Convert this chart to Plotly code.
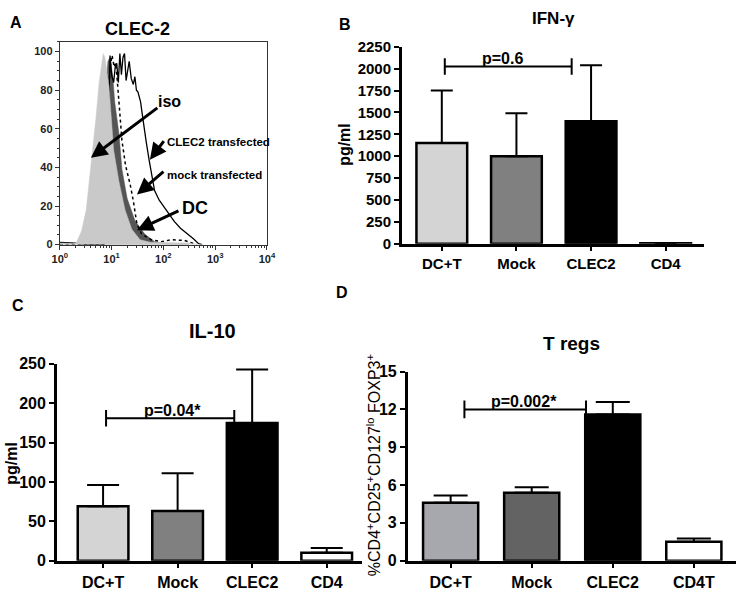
import plotly.graph_objects as go

W, H = 745, 592
FONT = "Liberation Sans, Arial, sans-serif"

# ---------------- Panel A: CLEC-2 flow histograms (log10 intensity, % of max)
iso_log = [0.00, 0.25, 0.32, 0.42, 0.51, 0.60, 0.70, 0.76, 0.80, 0.84, 0.87, 0.91, 0.95, 0.98, 1.04, 1.14, 1.26, 1.39, 1.55, 1.75, 2.10, 2.50, 2.65]
iso_cnt = [0.8, 0.5, 1, 7, 18, 40, 66, 84, 93, 99, 97, 90, 82, 71, 49, 33, 18, 8, 2.5, 1.2, 1.0, 0.8, 0]

dc_log = [0.00, 0.40, 0.55, 0.70, 0.80, 0.88, 0.93, 0.97, 1.02, 1.06, 1.14, 1.20, 1.30, 1.45, 1.64, 1.83, 2.02, 2.30, 2.50]
dc_cnt = [0, 0, 3, 20, 50, 80, 95, 97, 88, 74, 58, 39, 24, 12.5, 5.5, 1.5, 0.5, 0.3, 0]

mock_log = [0.00, 0.50, 0.85, 0.90, 0.94, 0.97, 1.01, 1.05, 1.08, 1.11, 1.14, 1.20, 1.27, 1.36, 1.42, 1.49, 1.58, 1.77, 1.96, 2.15, 2.40, 2.55, 2.64]
mock_cnt = [0, 0, 0, 30, 75, 92, 98, 92, 94, 85, 74, 54, 41, 31, 22.6, 10.5, 5.5, 2.5, 1.5, 2.5, 2.2, 1, 0]

clec_log = [0.00, 0.30, 0.55, 0.85, 0.90, 0.93, 0.95, 0.97, 1.00, 1.04, 1.07, 1.10, 1.13, 1.16, 1.19, 1.22, 1.25, 1.28, 1.31, 1.34, 1.38, 1.42, 1.45, 1.48, 1.51, 1.56, 1.59, 1.63, 1.67, 1.73, 1.83, 1.92, 2.00, 2.10, 2.21, 2.33, 2.45, 2.58, 2.68, 2.75]
clec_cnt = [1.2, 0.8, 0, 0, 20, 60, 85, 98, 88, 84, 92, 94, 84, 99, 88, 97, 99, 85, 90, 95, 86, 83, 87, 80, 79, 74, 68, 60, 53, 43, 28, 23, 20, 16, 12, 8.5, 6, 3, 0.5, 0]

hist_xticks = [1, 10, 100, 1000, 10000]
hist_xticktext = ["10<sup>0</sup>", "10<sup>1</sup>", "10<sup>2</sup>", "10<sup>3</sup>", "10<sup>4</sup>"]

# ---------------- Panel B: IFN-gamma
cats_bc = ["DC+T", "Mock", "CLEC2", "CD4"]
ifn_mean = [1150, 1000, 1400, 5]
ifn_upper = [1750, 1490, 2040, 5]

# ---------------- Panel C: IL-10
il10_mean = [69, 63, 175, 10]
il10_upper = [96, 111, 243, 16]

# ---------------- Panel D: T regs
cats_d = ["DC+T", "Mock", "CLEC2", "CD4T"]
treg_mean = [4.6, 5.4, 11.6, 1.5]
treg_upper = [5.18, 5.82, 12.6, 1.77]

colors_bc = ["#d4d4d4", "#808080", "#000000", "#ffffff"]
colors_d = ["#a7a7ae", "#636363", "#000000", "#ffffff"]

# significance brackets: start, end (category units), height, end-tick half size, label, label x
brk_b = [0.04, 1.74, 2025, 95, "p=0.6", 0.81]
brk_c = [0.04, 1.76, 181, 10.5, "p=0.04*", 0.93]
brk_d = [0.17, 1.67, 12.0, 0.7, "p=0.002*", 0.90]


def px(x):
    return x / W


def py(y):
    return 1 - y / H


fig = go.Figure()

# ---- Panel A traces
fig.add_trace(go.Scatter(x=[10 ** v for v in dc_log], y=dc_cnt, mode="lines", fill="tozeroy",
                         fillcolor="#555555", line=dict(color="#555555", width=0.5),
                         xaxis="x", yaxis="y", showlegend=False))
fig.add_trace(go.Scatter(x=[10 ** v for v in mock_log], y=mock_cnt, mode="lines",
                         line=dict(color="black", width=1.5, dash="dot"),
                         xaxis="x", yaxis="y", showlegend=False))
fig.add_trace(go.Scatter(x=[10 ** v for v in clec_log], y=clec_cnt, mode="lines",
                         line=dict(color="black", width=1.3),
                         xaxis="x", yaxis="y", showlegend=False))
fig.add_trace(go.Scatter(x=[10 ** v for v in iso_log], y=iso_cnt, mode="lines", fill="tozeroy",
                         fillcolor="#c9c9c9", line=dict(color="#c9c9c9", width=0.5),
                         xaxis="x", yaxis="y", showlegend=False))


def bar_panel(xa, ya, means, uppers, colors, cap, brk):
    fig.add_trace(go.Bar(
        x=list(range(len(means))), y=means, width=0.68,
        marker=dict(color=colors, line=dict(color="black", width=2.5)),
        error_y=dict(type="data", symmetric=False,
                     array=[u - m for u, m in zip(uppers, means)],
                     arrayminus=[0] * len(means), thickness=2, width=cap, color="black"),
        xaxis=xa, yaxis=ya, showlegend=False))
    x0, x1, yb, t, label, tx = brk
    fig.add_trace(go.Scatter(
        x=[x0, x0, None, x0, x1, None, x1, x1],
        y=[yb - t, yb + t, None, yb, yb, None, yb - t, yb + t],
        mode="lines", line=dict(color="black", width=2),
        xaxis=xa, yaxis=ya, showlegend=False, hoverinfo="skip"))
    fig.add_annotation(x=tx, y=yb, xref=xa, yref=ya, text="<b>" + label + "</b>",
                       showarrow=False, yanchor="bottom", yshift=-3,
                       font=dict(size=16, family=FONT, color="black"))


bar_panel("x2", "y2", ifn_mean, ifn_upper, colors_bc, 11, brk_b)
bar_panel("x3", "y3", il10_mean, il10_upper, colors_bc, 16, brk_c)
bar_panel("x4", "y4", treg_mean, treg_upper, colors_d, 17, brk_d)

# ---- Panel A arrows & labels
arrows = [
    (0.60, 45, 68, -51),
    (1.74, 44, 15, -20),
    (1.49, 26, 28, -24),
    (1.49, 7.5, 43, -20),
]
for ax_, ay_, dx, dy in arrows:
    fig.add_annotation(x=ax_, y=ay_, xref="x", yref="y", text="", showarrow=True,
                       ax=dx, ay=dy, arrowhead=2, arrowsize=1.1, arrowwidth=3, arrowcolor="black")

hist_labels = [
    ("iso", 1.85, 74, 16),
    ("CLEC2 transfected", 2.04, 53, 11.5),
    ("mock transfected", 2.04, 36, 11.5),
    ("DC", 2.32, 19, 18),
]
for txt, lx, ly, fs in hist_labels:
    fig.add_annotation(x=lx, y=ly, xref="x", yref="y", text="<b>" + txt + "</b>", showarrow=False,
                       xanchor="left", yanchor="middle", font=dict(size=fs, family=FONT, color="black"))

# ---- Titles, panel letters, y labels (paper coordinates)
texts = [
    ("A", 8, 14, 16, 0), ("B", 345, 16, 16, 0), ("C", 10, 306, 16, 0), ("D", 342, 292, 16, 0),
    ("CLEC-2", 133, 21, 18, 0), ("IFN-γ", 558, 10, 17, 0), ("IL-10", 209, 332, 20, 0), ("T regs", 577, 345, 19, 0),
    ("pg/ml", 345, 140, 16, -90), ("pg/ml", 4, 468, 16, -90),
]
for txt, x, y, fs, ang in texts:
    fig.add_annotation(x=px(x), y=py(y), xref="paper", yref="paper", text="<b>" + txt + "</b>",
                       showarrow=False, xanchor="center", yanchor="middle", textangle=ang,
                       font=dict(size=fs, family=FONT, color="black"))
fig.add_annotation(x=px(374), y=py(470), xref="paper", yref="paper",
                   text="%CD4<sup>+</sup>CD25<sup>+</sup>CD127<sup>lo</sup> FOXP3<sup>+</sup>",
                   showarrow=False, xanchor="center", yanchor="middle", textangle=-90,
                   font=dict(size=16, family=FONT, color="black"))

minor_log = [k * 10 ** n for n in range(4) for k in range(2, 10)]

bar_x_common = dict(tickvals=[0, 1, 2, 3], showline=True, linewidth=2.5, linecolor="black",
                    ticks="outside", ticklen=5, tickwidth=2, tickcolor="black",
                    showgrid=False, zeroline=False)
bar_y_common = dict(showline=True, linewidth=2.5, linecolor="black", ticks="outside",
                    ticklen=5, tickwidth=2, tickcolor="black", showgrid=False, zeroline=False)

fig.update_layout(
    width=W, height=H, margin=dict(l=0, r=0, t=0, b=0),
    paper_bgcolor="white", plot_bgcolor="white",
    font=dict(family=FONT, color="black"),
    bargap=0.3,
    xaxis=dict(domain=[px(53), px(265)], type="log", range=[0, 4], anchor="y",
               tickvals=hist_xticks, ticktext=hist_xticktext,
               showline=True, mirror=True, linewidth=1, linecolor="#333",
               ticks="outside", ticklen=4, tickcolor="#333",
               minor=dict(tickvals=minor_log, ticks="outside", ticklen=2.5, tickcolor="#333"),
               showgrid=False, zeroline=False,
               tickfont=dict(size=11, family=FONT, weight="bold", color="#222")),
    yaxis=dict(domain=[py(243), py(34)], range=[0, 105], anchor="x",
               tickvals=[0, 20, 40, 60, 80, 100],
               showline=True, mirror=True, linewidth=1, linecolor="#333",
               ticks="outside", ticklen=4, tickcolor="#333",
               minor=dict(dtick=5, ticks="outside", ticklen=2, tickcolor="#333"),
               showgrid=False, zeroline=False,
               tickfont=dict(size=11, family=FONT, weight="bold", color="#222")),
    xaxis2=dict(domain=[px(403), px(712)], range=[-0.536, 3.51], anchor="y2",
                ticktext=cats_bc, tickfont=dict(size=15, family=FONT, weight="bold"), **bar_x_common),
    yaxis2=dict(domain=[py(242), py(39)], range=[0, 2250], dtick=250, anchor="x2",
                tickfont=dict(size=15, family=FONT, weight="bold"), **bar_y_common),
    xaxis3=dict(domain=[px(50), px(362)], range=[-0.62, 3.47], anchor="y3",
                ticktext=cats_bc, tickfont=dict(size=16, family=FONT, weight="bold"), **bar_x_common),
    yaxis3=dict(domain=[py(569), py(366)], range=[0, 250], dtick=50, anchor="x3",
                tickfont=dict(size=16, family=FONT, weight="bold"), **bar_y_common),
    xaxis4=dict(domain=[px(409), 1.0], range=[-0.53, 3.52], anchor="y4",
                ticktext=cats_d, tickfont=dict(size=16, family=FONT, weight="bold"), **bar_x_common),
    yaxis4=dict(domain=[py(569), py(374)], range=[0, 15], dtick=3, anchor="x4",
                tickfont=dict(size=16, family=FONT, weight="bold"), **bar_y_common),
)

fig.write_html("out.html", config={"displayModeBar": False},
               post_script="document.body.style.margin='0';document.body.style.overflow='hidden';")
